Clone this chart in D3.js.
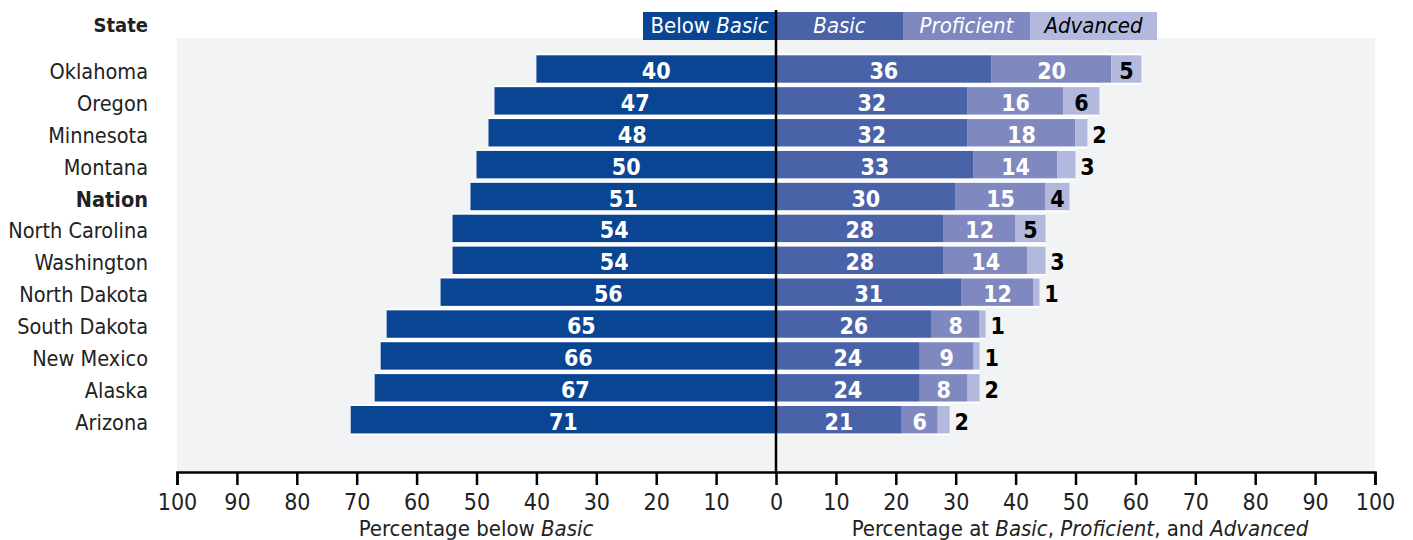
<!DOCTYPE html>
<html>
<head>
<meta charset="utf-8">
<script src="https://cdn.jsdelivr.net/npm/d3@7/dist/d3.min.js"></script>
<style>
  html, body { margin: 0; padding: 0; background: #fff; }
  svg { display: block; }
  text { font-family: "Liberation Sans Narrow", "DejaVu Sans Condensed", "Roboto", sans-serif; }
</style>
</head>
<body>
<svg id="chart" width="1413" height="540"></svg>
<script>
// ---- data ----
const states = ["Oklahoma", "Oregon", "Minnesota", "Montana", "Nation", "North Carolina",
  "Washington", "North Dakota", "South Dakota", "New Mexico", "Alaska", "Arizona"];
const belowBasic = [40, 47, 48, 50, 51, 54, 54, 56, 65, 66, 67, 71];
const basic      = [36, 32, 32, 33, 30, 28, 28, 31, 26, 24, 24, 21];
const proficient = [20, 16, 18, 14, 15, 12, 14, 12, 8, 9, 8, 6];
const advanced   = [5, 6, 2, 3, 4, 5, 3, 1, 1, 1, 2, 2];
const tickValues = [-100, -90, -80, -70, -60, -50, -40, -30, -20, -10, 0, 10, 20, 30, 40, 50, 60, 70, 80, 90, 100];
const boldStates = ["Nation"];

const colors = { below: "#0a4593", basic: "#4a63a8", prof: "#7f89c0", adv: "#b3b9de" };

const svg = d3.select("#chart");

const x = d3.scaleLinear().domain([-100, 100]).range([177, 1375]);
const y = d3.scaleBand().domain(states).range([53.06, 435.64]).paddingInner(0.14).paddingOuter(0.07);
const bw = y.bandwidth();

// background panel
svg.append("rect").attr("x", x(-100)).attr("y", 38).attr("width", x(100) - x(-100)).attr("height", 472 - 38)
  .attr("fill", "#f2f3f5");

const rows = states.map((s, i) => ({
  state: s, below: belowBasic[i], basic: basic[i], prof: proficient[i], adv: advanced[i]
}));

const g = svg.append("g");

// white row backing (gap between rows)
g.selectAll("rect.back").data(rows).join("rect")
  .attr("class", "back")
  .attr("x", d => x(-d.below))
  .attr("y", d => y(d.state) - 2)
  .attr("width", d => x(d.basic + d.prof + d.adv) - x(-d.below))
  .attr("height", bw + 4)
  .attr("fill", "#fff");

rows.forEach(d => {
  const yy = y(d.state);
  const segs = [
    { x0: -d.below, x1: 0, c: colors.below, v: d.below, tc: "#fff" },
    { x0: 0, x1: d.basic, c: colors.basic, v: d.basic, tc: "#fff" },
    { x0: d.basic, x1: d.basic + d.prof, c: colors.prof, v: d.prof, tc: "#fff" },
    { x0: d.basic + d.prof, x1: d.basic + d.prof + d.adv, c: colors.adv, v: d.adv, tc: "#000" }
  ];
  segs.forEach((s, k) => {
    g.append("rect").attr("x", x(s.x0)).attr("y", yy).attr("width", x(s.x1) - x(s.x0)).attr("height", bw)
      .attr("fill", s.c);
    let tx = (x(s.x0) + x(s.x1)) / 2;
    if (k === 3 && s.v < 4) tx = x(s.x1) + 12;
    g.append("text").attr("x", tx).attr("y", yy + bw / 2 + 10)
      .attr("text-anchor", "middle").attr("font-size", 23).attr("font-weight", "bold")
      .attr("fill", s.tc).text(s.v);
  });
});

// state labels
svg.append("g").selectAll("text").data(states).join("text")
  .attr("x", 148).attr("y", d => y(d) + bw / 2 + 10)
  .attr("text-anchor", "end").attr("font-size", 21.5)
  .attr("font-weight", d => boldStates.includes(d) ? "bold" : "normal")
  .attr("fill", "#222").text(d => d);

svg.append("text").attr("x", 148).attr("y", 32).attr("text-anchor", "end")
  .attr("font-size", 20).attr("font-weight", "bold").attr("fill", "#222").text("State");

// legend
const legend = [
  { x0: 643, x1: 776, c: colors.below, tc: "#fff", parts: [["Below ", false], ["Basic", true]] },
  { x0: 776, x1: 903, c: colors.basic, tc: "#fff", parts: [["Basic", true]] },
  { x0: 903, x1: 1030, c: colors.prof, tc: "#fff", parts: [["Proficient", true]] },
  { x0: 1030, x1: 1157, c: colors.adv, tc: "#000", parts: [["Advanced", true]] }
];
const lg = svg.append("g");
legend.forEach(l => {
  lg.append("rect").attr("x", l.x0).attr("y", 12).attr("width", l.x1 - l.x0).attr("height", 28).attr("fill", l.c);
  const t = lg.append("text").attr("x", (l.x0 + l.x1) / 2).attr("y", 33).attr("text-anchor", "middle")
    .attr("font-size", 22).attr("fill", l.tc);
  l.parts.forEach(p => t.append("tspan").attr("font-style", p[1] ? "italic" : "normal").text(p[0]));
});

// zero line
svg.append("line").attr("x1", x(0)).attr("x2", x(0)).attr("y1", 10).attr("y2", 472)
  .attr("stroke", "#000").attr("stroke-width", 2.5);

// axis
const axis = d3.axisBottom(x).tickValues(tickValues).tickSize(13).tickFormat(d => Math.abs(d));
const ax = svg.append("g").attr("transform", "translate(0,472)").call(axis);
ax.select(".domain").attr("stroke", "#000").attr("stroke-width", 2.5);
ax.selectAll(".tick line").attr("stroke", "#000").attr("stroke-width", 2.5);
ax.selectAll(".tick text").attr("font-size", 23).attr("fill", "#222").attr("dy", "0.95em")
  .attr("font-family", "Liberation Sans Narrow, DejaVu Sans Condensed, sans-serif");

// axis titles
const t1 = svg.append("text").attr("x", 476).attr("y", 536).attr("text-anchor", "middle").attr("font-size", 22).attr("fill", "#222");
t1.append("tspan").text("Percentage below ");
t1.append("tspan").attr("font-style", "italic").text("Basic");

const t2 = svg.append("text").attr("x", 1080).attr("y", 536).attr("text-anchor", "middle").attr("font-size", 22).attr("fill", "#222");
t2.append("tspan").text("Percentage at ");
t2.append("tspan").attr("font-style", "italic").text("Basic");
t2.append("tspan").text(", ");
t2.append("tspan").attr("font-style", "italic").text("Proficient");
t2.append("tspan").text(", and ");
t2.append("tspan").attr("font-style", "italic").text("Advanced");
</script>
</body>
</html>
